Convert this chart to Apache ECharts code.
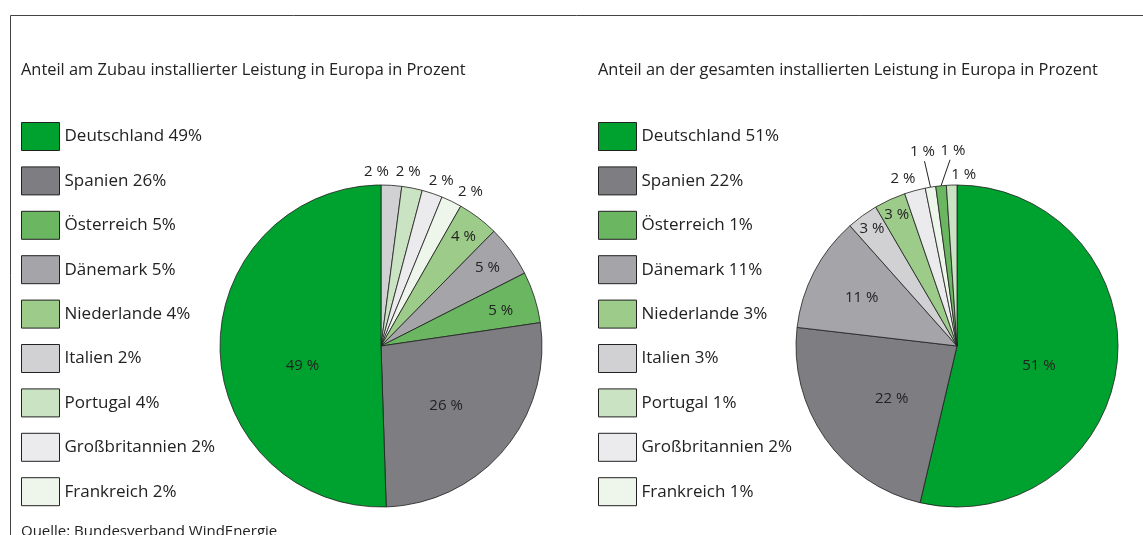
<!DOCTYPE html>
<html>
<head>
<meta charset="utf-8">
<script src="https://cdn.jsdelivr.net/npm/echarts@6/dist/echarts.min.js"></script>
<style>
html,body{margin:0;padding:0;background:#fff;}
#chart{width:1143px;height:535px;}
</style>
</head>
<body>
<div id="chart"></div>
<script>
// ---- data ----
const leftTitle = 'Anteil am Zubau installierter Leistung in Europa in Prozent';
const rightTitle = 'Anteil an der gesamten installierten Leistung in Europa in Prozent';
const sourceText = 'Quelle: Bundesverband WindEnergie';

const legendNames = ['Deutschland','Spanien','Österreich','Dänemark','Niederlande','Italien','Portugal','Großbritannien','Frankreich'];
const leftLegendShares = [49,26,5,5,4,2,4,2,2];
const rightLegendShares = [51,22,1,11,3,3,1,2,1];

const leftSliceNames = ['Italien','Portugal','Großbritannien','Frankreich','Niederlande','Dänemark','Österreich','Spanien','Deutschland'];
const leftSliceValues = [2,2,2,2,4,5,5,26,49];

const rightSliceNames = ['Deutschland','Spanien','Dänemark','Italien','Niederlande','Großbritannien','Frankreich','Österreich','Portugal'];
const rightSliceValues = [51,22,11,3,3,2,1,1,1];

// ---- styles ----
const colors = {
  'Deutschland':'#00a22f','Spanien':'#7e7d82','Österreich':'#6bb661','Dänemark':'#a5a4a9',
  'Niederlande':'#9ccb8a','Italien':'#d1d1d4','Portugal':'#cae4c3','Großbritannien':'#ebebee','Frankreich':'#eef6eb'
};
const FONT = 'Open Sans';
const TXT = '#222';
const R = 161;
const leftCenter = [381, 346];
const rightCenter = [957, 346];

// inside label placement groups (style only)
const leftLabelGroups = [
  {names:['Deutschland','Spanien'], radius:[0, R], nudge:{'Deutschland':[5,18], 'Spanien':[1,6]}},
  {names:['Niederlande','Dänemark','Österreich'], radius:[R*0.6, R], nudge:{'Niederlande':[3,-4], 'Österreich':[-6,5]}}
];
const rightLabelGroups = [
  {names:['Deutschland','Spanien'], radius:[0, R], nudge:{'Deutschland':[-1,10], 'Spanien':[3,5]}},
  {names:['Dänemark'], radius:[R*0.34, R], nudge:{'Dänemark':[3,3]}},
  {names:['Italien','Niederlande'], radius:[R*0.76, R], nudge:{}}
];
// outside label nudges relative to the slice's outer edge (style only)
const leftOutside = {
  'Italien':{dx:-15, dy:-14}, 'Portugal':{dx:-4, dy:-16},
  'Großbritannien':{dx:9, dy:-13}, 'Frankreich':{dx:19, dy:-10}
};
const rightOutside = {
  'Großbritannien':{dx:-12, dy:-12},
  'Frankreich':{dx:-8, dy:-35, line:true},
  'Österreich':{dx:12, dy:-35, line:true},
  'Portugal':{dx:12, dy:-10}
};

function baseSeries(center, names, values) {
  return {
    type:'pie', center:center, radius:[0, R], startAngle:90, clockwise:true,
    animation:false, silent:true, avoidLabelOverlap:false,
    label:{show:false}, labelLine:{show:false},
    emphasis:{disabled:true},
    itemStyle:{borderColor:'#1e1e1e', borderWidth:0.8},
    data: names.map((n,i)=>({name:n, value:values[i], itemStyle:{color:colors[n]}}))
  };
}
function labelSeries(center, names, values, group) {
  return {
    type:'pie', center:center, radius:group.radius, startAngle:90, clockwise:true,
    animation:false, silent:true, avoidLabelOverlap:false, legendHoverLink:false,
    emphasis:{disabled:true},
    itemStyle:{color:'rgba(0,0,0,0)', borderWidth:0},
    labelLine:{show:false},
    labelLayout:function(p){
      const d = group.nudge[names[p.dataIndex]];
      return d ? {dx:d[0], dy:d[1], hideOverlap:false} : {hideOverlap:false};
    },
    data: names.map((n,i)=>({name:n, value:values[i],
      label:{show: group.names.indexOf(n) >= 0, position:'inside', formatter:'{c} %',
             color:TXT, fontFamily:FONT, fontSize:15}}))
  };
}
function outsideSeries(center, names, values, spec) {
  return {
    type:'pie', center:center, radius:[0, R], startAngle:90, clockwise:true,
    animation:false, silent:true, avoidLabelOverlap:false, legendHoverLink:false,
    emphasis:{disabled:true},
    itemStyle:{color:'rgba(0,0,0,0)', borderWidth:0},
    label:{position:'outside', formatter:'{c} %', color:TXT, fontFamily:FONT, fontSize:15},
    labelLine:{show:true, length:20, length2:0, lineStyle:{color:'#222', width:1}},
    labelLayout:function(p){
      const s = spec[names[p.dataIndex]];
      if (!s || !p.labelLinePoints) return {};
      const p0 = p.labelLinePoints[0];
      const e = [p0[0] + s.dx*0.75, p0[1] + s.dy + 9];
      return {x:p0[0]+s.dx, y:p0[1]+s.dy, align:'center', verticalAlign:'middle', hideOverlap:false,
              labelLinePoints:[[p0[0],p0[1]], e, e]};
    },
    data: names.map((n,i)=>{
      const s = spec[n];
      return {name:n, value:values[i],
        label:{show: !!s},
        labelLine:{show: !!s, lineStyle:{opacity: (s && s.line) ? 1 : 0}}};
    })
  };
}

const series = [
  baseSeries(leftCenter, leftSliceNames, leftSliceValues),
  baseSeries(rightCenter, rightSliceNames, rightSliceValues)
];
leftLabelGroups.forEach(g=>series.push(labelSeries(leftCenter, leftSliceNames, leftSliceValues, g)));
rightLabelGroups.forEach(g=>series.push(labelSeries(rightCenter, rightSliceNames, rightSliceValues, g)));
series.push(outsideSeries(leftCenter, leftSliceNames, leftSliceValues, leftOutside));
series.push(outsideSeries(rightCenter, rightSliceNames, rightSliceValues, rightOutside));

function legendFor(left, shares) {
  return {
    orient:'vertical', left:left, top:122, padding:0,
    itemWidth:38, itemHeight:28, itemGap:15.4, icon:'rect', selectedMode:false,
    itemStyle:{borderColor:'#222', borderWidth:1},
    textStyle:{fontFamily:FONT, fontSize:17, color:TXT},
    data: legendNames.slice(),
    formatter: function(name){ return name + ' ' + shares[legendNames.indexOf(name)] + '%'; }
  };
}

const option = {
  backgroundColor:'#fff',
  animation:false,
  title:[
    {text:leftTitle, left:21, top:62, padding:0, textStyle:{fontFamily:FONT, fontSize:16.4, fontWeight:'normal', color:TXT}},
    {text:rightTitle, left:598, top:62, padding:0, textStyle:{fontFamily:FONT, fontSize:16.4, fontWeight:'normal', color:TXT}}
  ],
  legend:[legendFor(21, leftLegendShares), legendFor(598, rightLegendShares)],
  graphic:[
    {type:'polyline', silent:true, shape:{points:[[10.5,535],[10.5,15.5],[1143,15.5]]}, style:{stroke:'#444', lineWidth:1, fill:null}},
    {type:'text', silent:true, left:21, top:524, style:{text:sourceText, font:'15px "Open Sans"', fill:TXT}}
  ],
  series:series
};
const chart = echarts.init(document.getElementById('chart'), null, {renderer:'canvas'});
chart.setOption(option);
</script>
</body>
</html>
